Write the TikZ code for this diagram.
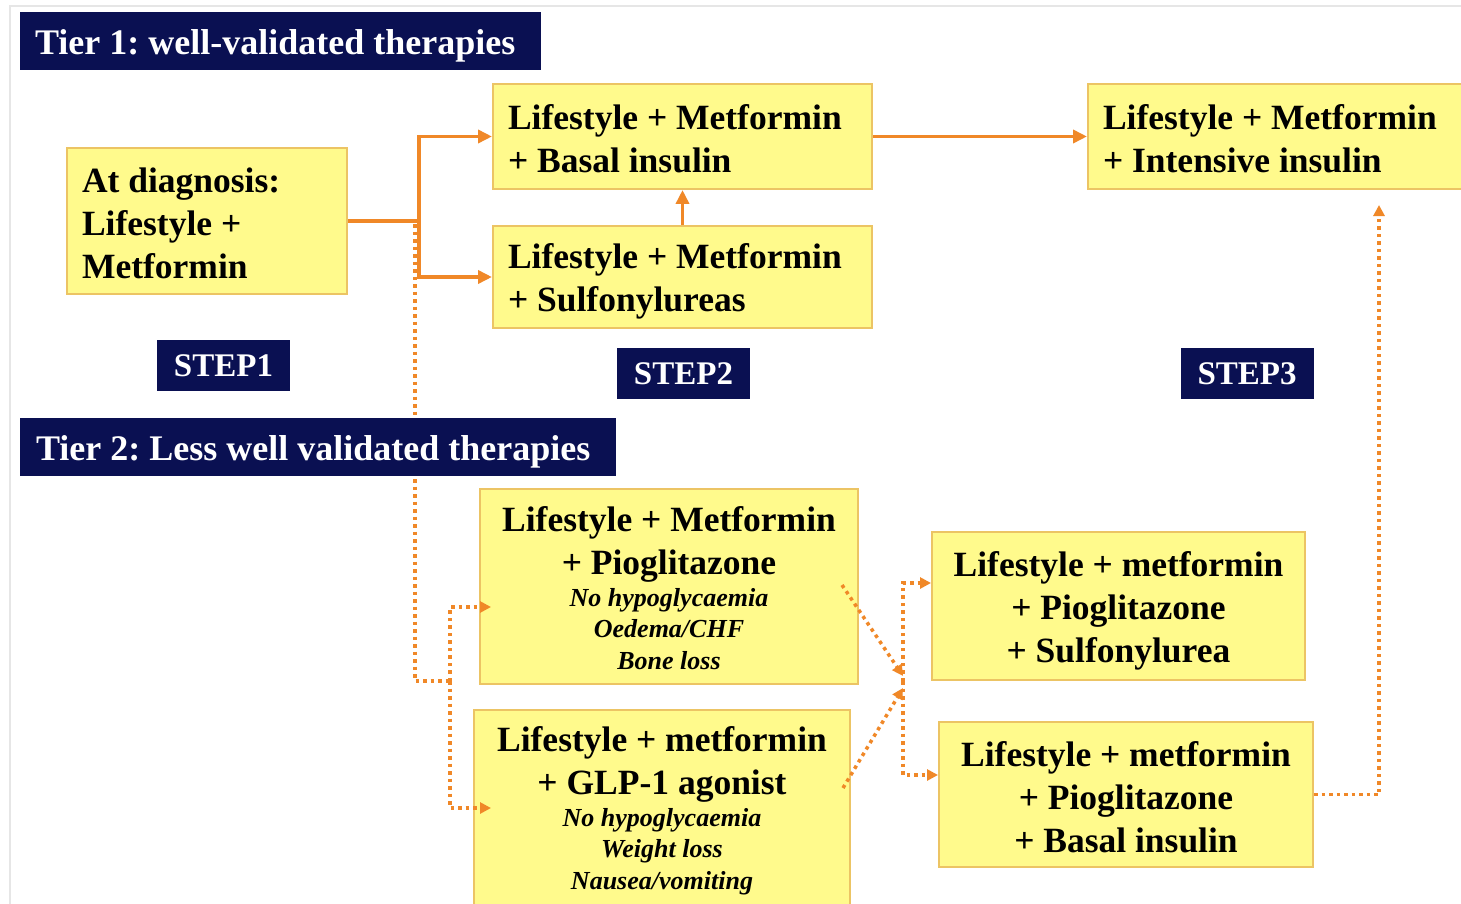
\documentclass[tikz,border=0pt]{standalone}
\usepackage{fontspec}
\setmainfont{Liberation Serif}
\usetikzlibrary{arrows.meta,calc}
\definecolor{navy}{RGB}{10,16,82}
\definecolor{boxfill}{RGB}{255,250,140}
\definecolor{boxline}{RGB}{236,196,100}
\definecolor{arr}{RGB}{240,136,40}
\definecolor{framegray}{RGB}{230,230,230}
\frenchspacing
\newcommand{\notelines}[1]{{\fontsize{26}{31.5}\selectfont\bfseries\itshape\begin{tabular}{@{}c@{}}#1\end{tabular}}}
\begin{document}
\begin{tikzpicture}[x=1pt,y=-1pt,
 tbox/.style={draw=boxline, fill=boxfill, line width=2pt, inner sep=0pt},
 btext/.style={inner sep=0pt, font=\fontsize{35.5}{43}\selectfont\bfseries, text=black},
 banner/.style={fill=navy, inner sep=0pt},
 bannertext/.style={anchor=west, inner sep=0pt, text=white, font=\fontsize{36}{40}\selectfont\bfseries},
 stepbox/.style={fill=navy, text=white, inner sep=0pt, minimum width=133pt, minimum height=51pt, font=\fontsize{33}{36}\selectfont\bfseries},
 solidline/.style={draw=arr, line width=3.5pt},
 solidarrow/.style={solidline, -{Triangle[length=14pt,width=13pt]}},
 dotline/.style={draw=arr, line width=3.5pt, dash pattern=on 3.5pt off 4pt},
 dotarrow/.style={dotline, -{Triangle[length=11pt,width=11pt]}}
]
\useasboundingbox (0,0) rectangle (1461,904);
\clip (0,0) rectangle (1461,904);
\fill[white] (0,0) rectangle (1461,904);
\draw[framegray, line width=1.2pt] (10,904) -- (10,6) -- (1461,6);

% Tier 1 banner
\node[banner, minimum width=521pt, minimum height=58pt] (t1) at (280.5,41) {};
\node[bannertext] (t1t) at ($(t1.west)+(15,5)$) {Tier 1: well-validated therapies};

% boxes
\node[tbox, minimum width=280pt, minimum height=146pt] (diag) at (207,221) {};
\node[btext, text width=250pt, align=flush left] (diagt) at ($(diag.center)+(0,2)$) {At diagnosis:\\Lifestyle +\\Metformin};

\node[tbox, minimum width=379pt, minimum height=105pt] (A) at (682.5,136.5) {};
\node[btext, text width=349pt, align=flush left] (At) at ($(A.center)+(0,2)$) {Lifestyle + Metformin\\+ Basal insulin};

\node[tbox, minimum width=379pt, minimum height=102pt] (B) at (682.5,277) {};
\node[btext, text width=349pt, align=flush left] (Bt) at ($(B.center)+(0,4)$) {Lifestyle + Metformin\\+ Sulfonylureas};

\node[tbox, minimum width=387pt, minimum height=105pt] (C) at (1281.5,136.5) {};
\node[btext, text width=357pt, align=flush left] (Ct) at ($(C.center)+(0,2)$) {Lifestyle + Metformin\\+ Intensive insulin};

\node[tbox, minimum width=378pt, minimum height=195pt] (D) at (669,586.5) {};
\node[btext, text width=348pt, align=flush center] (Dt) at ($(D.center)+(0,6)$) {Lifestyle + Metformin\\+ Pioglitazone\\[1pt]\notelines{No hypoglycaemia\\Oedema/CHF\\Bone loss}};

\node[tbox, minimum width=376pt, minimum height=205pt] (E) at (662,812.5) {};
\node[btext, text width=346pt, align=flush center] (Et) at ($(E.center)+(0,0)$) {Lifestyle + metformin\\+ GLP-1 agonist\\[1pt]\notelines{No hypoglycaemia\\Weight loss\\Nausea/vomiting}};

\node[tbox, minimum width=373pt, minimum height=148pt] (F) at (1118.5,606) {};
\node[btext, text width=343pt, align=flush center] (Ft) at ($(F.center)+(0,5)$) {Lifestyle + metformin\\+ Pioglitazone\\+ Sulfonylurea};

\node[tbox, minimum width=374pt, minimum height=145pt] (G) at (1126,794.5) {};
\node[btext, text width=344pt, align=flush center] (Gt) at ($(G.center)+(0,3)$) {Lifestyle + metformin\\+ Pioglitazone\\+ Basal insulin};

% step labels
\node[stepbox] (s1) at (223.5,365.5) {STEP1};
\node[stepbox] (s2) at (683.5,373.5) {STEP2};
\node[stepbox] (s3) at (1247,373.5) {STEP3};

% coordinates
\coordinate (J) at (419,221);
\coordinate (J2) at (415,224);
\coordinate (K) at (450,681);
\coordinate (P1) at (842,585);
\coordinate (P2) at (843,788);
\coordinate (M1) at (903,676);
\coordinate (M2) at (903,688);
\coordinate (M) at (903,681);
\coordinate (Ctgt) at (1379,205);

% solid connectors
\draw[solidline] (diag.east) -- (J);
\draw[solidarrow] (J) |- (A.west);
\draw[solidarrow] (J) |- (B.west);
\draw[solidarrow] (B.north) -- (A.south);
\draw[solidarrow] (A.east) -- (C.west);

% dotted connectors
\draw[dotline] (J2) |- (K);
\draw[dotarrow] (K) |- ($(D.west)+(12,20.5)$);
\draw[dotarrow] (K) |- ($(E.west)+(18,-4.5)$);
\draw[dotarrow] (P1) -- (M1);
\draw[dotarrow] (P2) -- (M2);
\draw[dotarrow] (M) |- ($(F.west)+(0,-23)$);
\draw[dotarrow] (M) |- ($(G.west)+(0,-19.5)$);
\draw[dotarrow] (G.east) -| (Ctgt);

% Tier 2 banner (on top of the dotted line)
\node[banner, minimum width=596pt, minimum height=58pt] (t2) at (318,447) {};
\node[bannertext] (t2t) at ($(t2.west)+(16,5)$) {Tier 2: Less well validated therapies};
\end{tikzpicture}
\end{document}
